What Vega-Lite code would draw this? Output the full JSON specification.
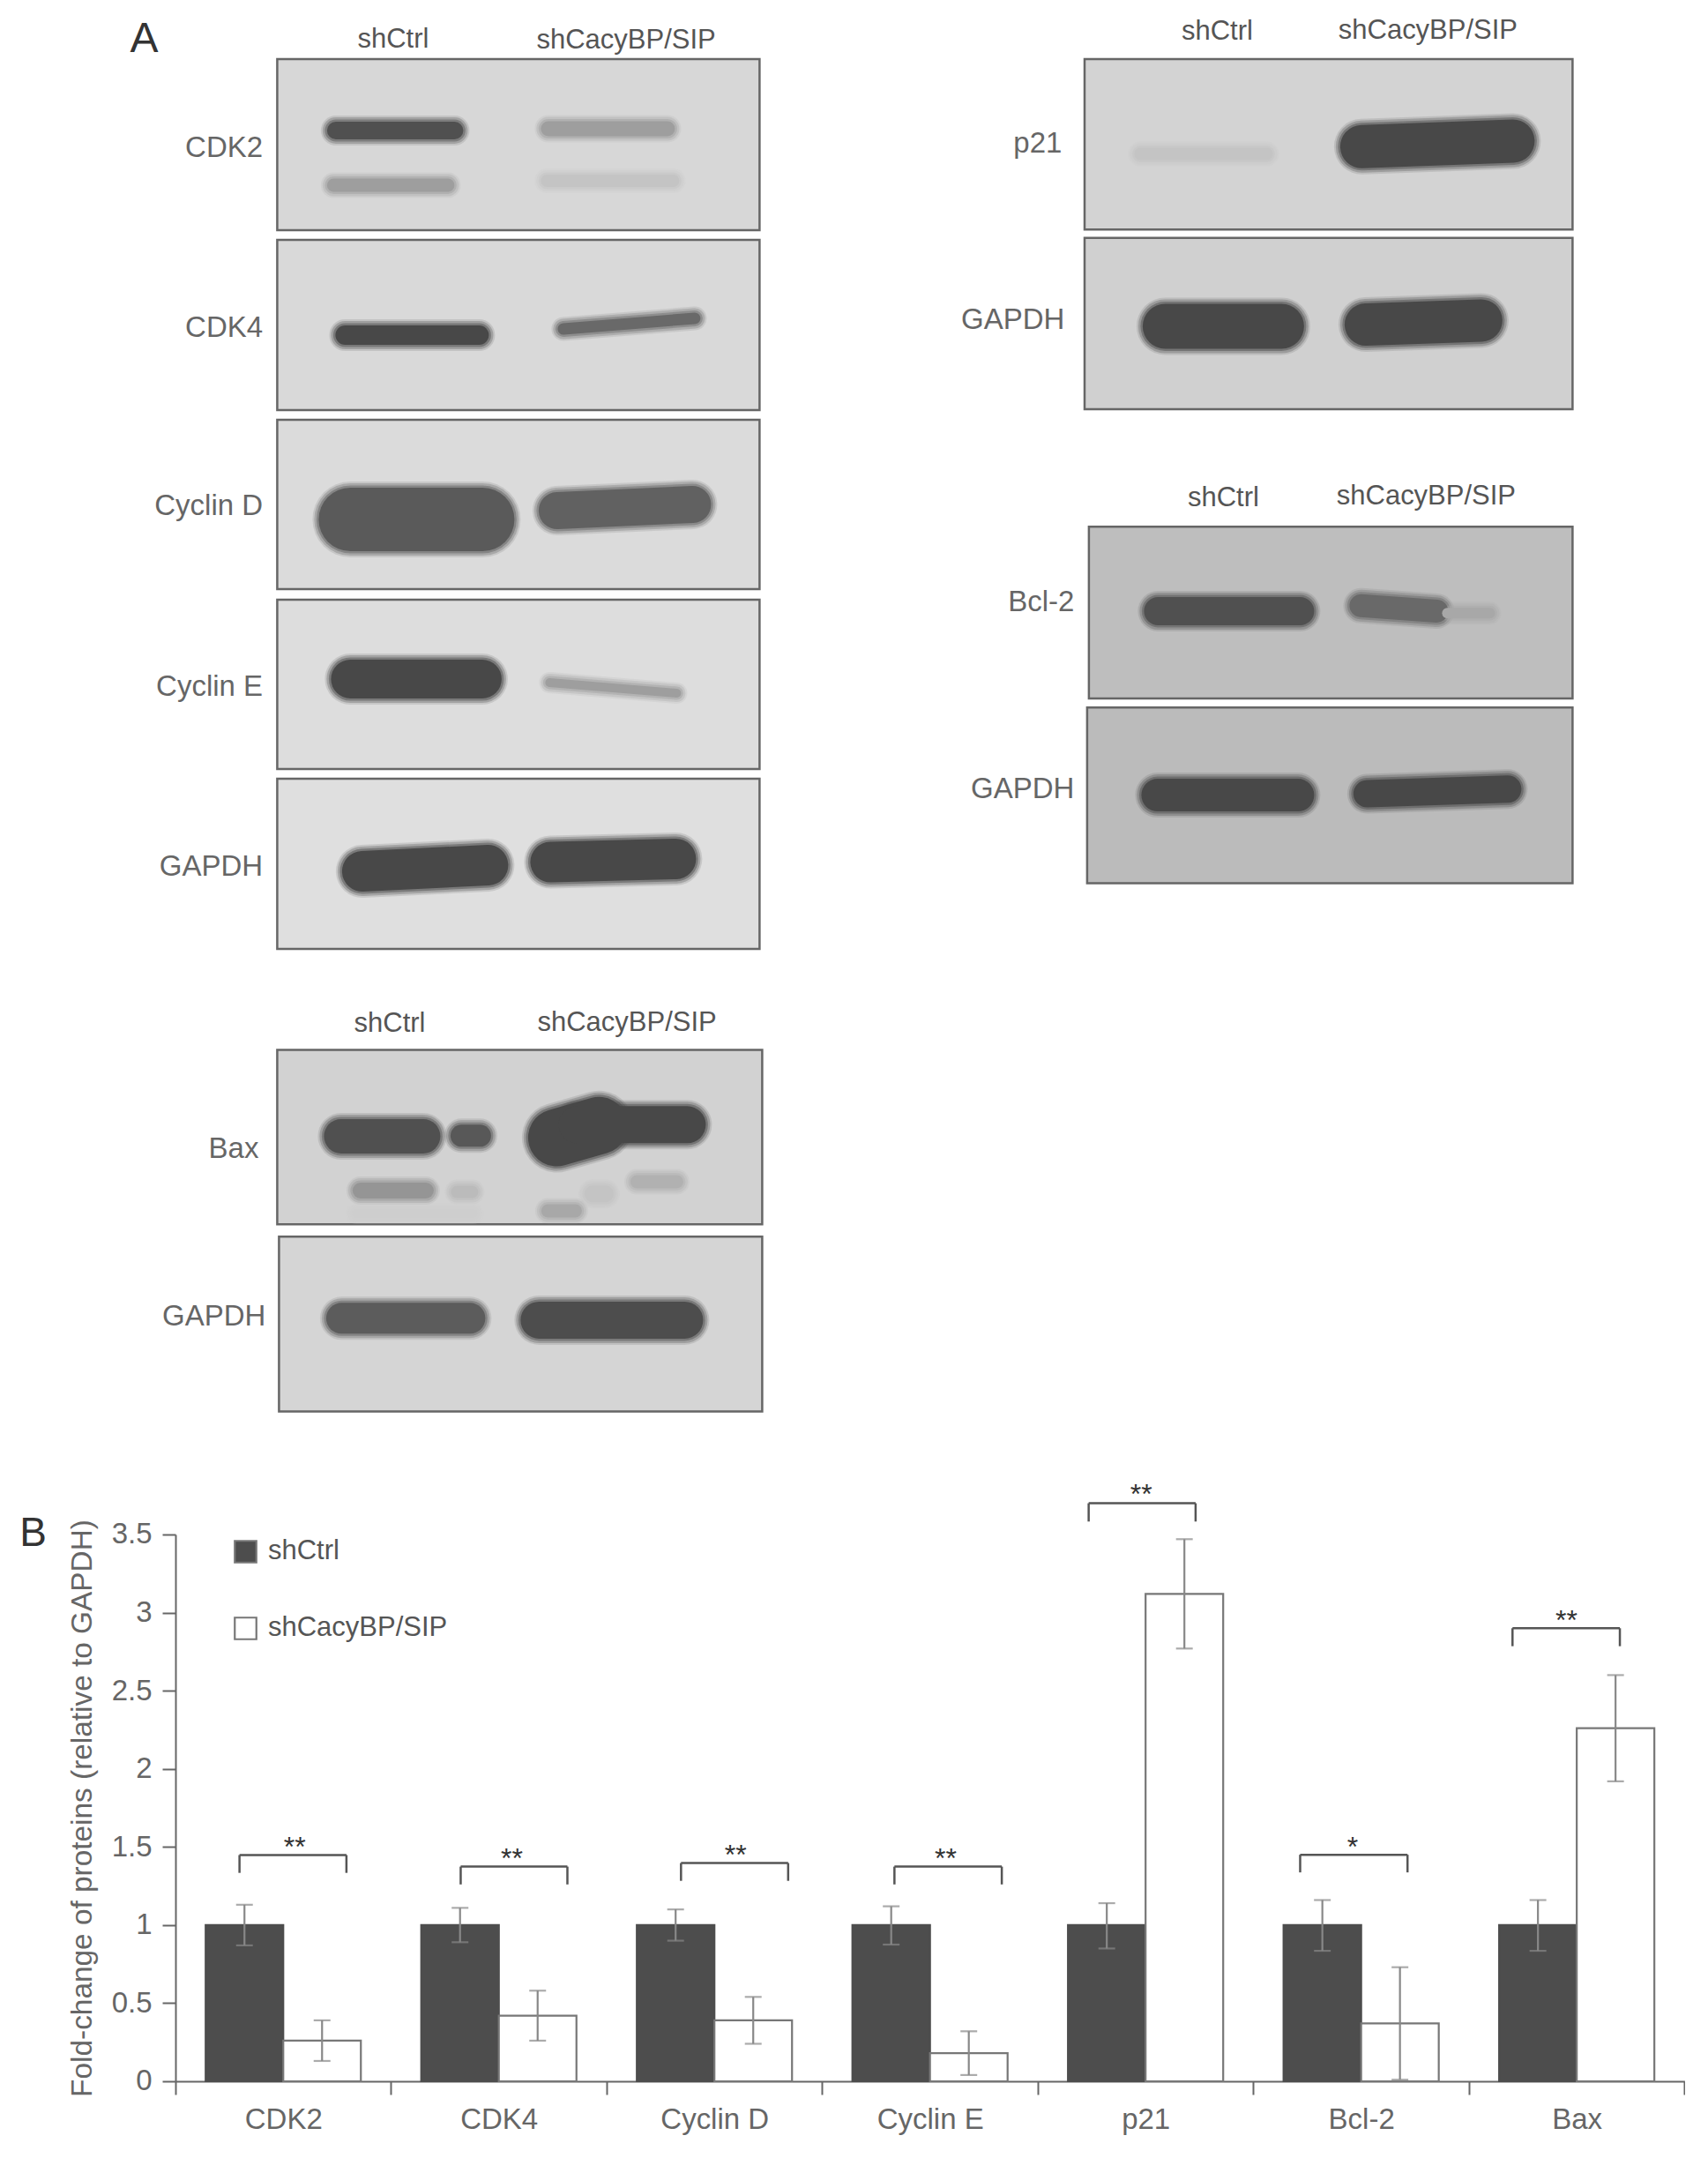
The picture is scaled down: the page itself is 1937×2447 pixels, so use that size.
{"$schema":"https://vega.github.io/schema/vega-lite/v6.json","background":"white","padding":{"left":22,"top":0,"right":0,"bottom":0},"spacing":0,"config":{"view":{"stroke":null},"font":"Liberation Sans"},
"datasets":{
"panels":[{"blot":"CDK2","x0":315,"x1":862,"y0":67,"y1":261,"darkness":0.2},{"blot":"CDK4","x0":315,"x1":862,"y0":272,"y1":465,"darkness":0.19},{"blot":"Cyclin D","x0":315,"x1":862,"y0":476,"y1":668,"darkness":0.18},{"blot":"Cyclin E","x0":315,"x1":862,"y0":680,"y1":872,"darkness":0.17},{"blot":"GAPDH","x0":315,"x1":862,"y0":883,"y1":1076,"darkness":0.16},{"blot":"Bax","x0":315,"x1":865,"y0":1190.6,"y1":1388.2,"darkness":0.23},{"blot":"GAPDH","x0":317,"x1":865,"y0":1402.3,"y1":1600.4,"darkness":0.21},{"blot":"p21","x0":1230.6,"x1":1784,"y0":67,"y1":260.3,"darkness":0.22},{"blot":"GAPDH","x0":1230.6,"x1":1784,"y0":269.7,"y1":464,"darkness":0.24},{"blot":"Bcl-2","x0":1235.5,"x1":1784,"y0":597.3,"y1":792,"darkness":0.33},{"blot":"GAPDH","x0":1233.5,"x1":1784,"y0":802.3,"y1":1001.4,"darkness":0.35}],
"bands":[{"x0":381.5,"x1":516,"y0":148,"y1":148,"t":18,"d":0.95},{"x0":379,"x1":508.5,"y0":210,"y1":210,"t":13,"d":0.5},{"x0":622.5,"x1":757.5,"y0":146,"y1":146,"t":15,"d":0.5},{"x0":621,"x1":764,"y0":205,"y1":205,"t":12,"d":0.3},{"x0":392,"x1":544,"y0":380,"y1":380,"t":20,"d":1},{"x0":639.5,"x1":788.5,"y0":373,"y1":361,"t":11,"d":0.8},{"x0":398,"x1":548,"y0":589,"y1":589,"t":70,"d":0.89},{"x0":632.5,"x1":786,"y0":579,"y1":572,"t":40,"d":0.85},{"x0":398,"x1":547.5,"y0":770,"y1":770,"t":42,"d":1},{"x0":624,"x1":768,"y0":774,"y1":786,"t":8,"d":0.5},{"x0":411.5,"x1":554,"y0":988,"y1":981,"t":44,"d":1},{"x0":625,"x1":767,"y0":977.5,"y1":974,"t":44,"d":1},{"x0":387.5,"x1":480.5,"y0":1288.4,"y1":1288.4,"t":37,"d":0.95},{"x0":524,"x1":545,"y0":1287.8,"y1":1287.8,"t":23,"d":0.9},{"x0":409.5,"x1":483.5,"y0":1350,"y1":1350,"t":16,"d":0.55},{"x0":519,"x1":536,"y0":1351.6,"y1":1351.6,"t":12,"d":0.35},{"x0":405,"x1":537,"y0":1376,"y1":1376,"t":8,"d":0.25},{"x0":632,"x1":680,"y0":1290,"y1":1276.3,"t":63,"d":1},{"x0":655,"x1":780,"y0":1275.3,"y1":1275.3,"t":40,"d":1},{"x0":723,"x1":768,"y0":1340,"y1":1340,"t":13,"d":0.4},{"x0":622,"x1":653,"y0":1373,"y1":1373,"t":13,"d":0.45},{"x0":673,"x1":687,"y0":1353.7,"y1":1353.7,"t":17,"d":0.3},{"x0":388,"x1":533.5,"y0":1494.8,"y1":1494.8,"t":33,"d":0.88},{"x0":612,"x1":777,"y0":1496.9,"y1":1496.9,"t":40,"d":0.97},{"x0":1294,"x1":1437,"y0":174.6,"y1":174.6,"t":12,"d":0.3},{"x0":1545,"x1":1716.5,"y0":166.2,"y1":160,"t":47,"d":1},{"x0":1322,"x1":1454,"y0":370,"y1":370,"t":49,"d":1},{"x0":1549.5,"x1":1680.5,"y0":368,"y1":363.4,"t":46,"d":1},{"x0":1314,"x1":1475,"y0":693,"y1":693,"t":30,"d":0.95},{"x0":1544,"x1":1630,"y0":686.8,"y1":693,"t":24,"d":0.8},{"x0":1642,"x1":1690,"y0":695.2,"y1":695.2,"t":10,"d":0.45},{"x0":1313.5,"x1":1472.5,"y0":901.6,"y1":901.6,"t":35,"d":1},{"x0":1551,"x1":1710.5,"y0":900,"y1":894.8,"t":29,"d":1}],
"rowLabels":[{"label":"CDK2","x":298.7,"y":168},{"label":"CDK4","x":298.7,"y":372},{"label":"Cyclin D","x":298.7,"y":574},{"label":"Cyclin E","x":298.7,"y":779},{"label":"GAPDH","x":298.7,"y":983},{"label":"Bax","x":294,"y":1303.5},{"label":"GAPDH","x":302,"y":1493.3},{"label":"p21","x":1205,"y":163},{"label":"GAPDH","x":1208,"y":363.3},{"label":"Bcl-2","x":1219,"y":683.3},{"label":"GAPDH","x":1219,"y":894.8}],
"lanes":[{"label":"shCtrl","x":446.5,"y":44.6},{"label":"shCacyBP/SIP","x":710.7,"y":46},{"label":"shCtrl","x":442.6,"y":1161.4},{"label":"shCacyBP/SIP","x":711.7,"y":1160.3},{"label":"shCtrl","x":1381,"y":36},{"label":"shCacyBP/SIP","x":1620,"y":35},{"label":"shCtrl","x":1388,"y":565},{"label":"shCacyBP/SIP","x":1618,"y":563.4}],
"letterA":[{"label":"A","x":164,"y":44.6}],
"bars":[{"protein":"CDK2","group":"shCtrl","fold":1,"low":0.87,"high":1.13},{"protein":"CDK2","group":"shCacyBP/SIP","fold":0.26,"low":0.13,"high":0.39},{"protein":"CDK4","group":"shCtrl","fold":1,"low":0.89,"high":1.11},{"protein":"CDK4","group":"shCacyBP/SIP","fold":0.42,"low":0.26,"high":0.58},{"protein":"Cyclin D","group":"shCtrl","fold":1,"low":0.9,"high":1.1},{"protein":"Cyclin D","group":"shCacyBP/SIP","fold":0.39,"low":0.24,"high":0.54},{"protein":"Cyclin E","group":"shCtrl","fold":1,"low":0.875,"high":1.12},{"protein":"Cyclin E","group":"shCacyBP/SIP","fold":0.18,"low":0.04,"high":0.32},{"protein":"p21","group":"shCtrl","fold":1,"low":0.85,"high":1.14},{"protein":"p21","group":"shCacyBP/SIP","fold":3.12,"low":2.77,"high":3.47},{"protein":"Bcl-2","group":"shCtrl","fold":1,"low":0.835,"high":1.16},{"protein":"Bcl-2","group":"shCacyBP/SIP","fold":0.37,"low":0.01,"high":0.73},{"protein":"Bax","group":"shCtrl","fold":1,"low":0.835,"high":1.16},{"protein":"Bax","group":"shCacyBP/SIP","fold":2.26,"low":1.92,"high":2.6}],
"brackets":[{"stars":"**","from":0.297,"to":0.793,"mid":0.553,"top":1.448,"foot":1.334,"label":1.525},{"stars":"**","from":1.323,"to":1.818,"mid":1.56,"top":1.374,"foot":1.26,"label":1.45},{"stars":"**","from":2.345,"to":2.842,"mid":2.598,"top":1.397,"foot":1.283,"label":1.475},{"stars":"**","from":3.335,"to":3.833,"mid":3.573,"top":1.374,"foot":1.26,"label":1.45},{"stars":"**","from":4.236,"to":4.732,"mid":4.48,"top":3.7,"foot":3.583,"label":3.78},{"stars":"*","from":5.217,"to":5.715,"mid":5.46,"top":1.45,"foot":1.337,"label":1.525},{"stars":"**","from":6.202,"to":6.7,"mid":6.452,"top":2.9,"foot":2.785,"label":2.975}],
"letterB":[{"label":"B","x":-0.66,"y":3.505}]
},
"vconcat":[
{"width":1711.4,"height":1679,
"encoding":{"x":{"field":"x0","type":"quantitative","scale":{"domain":[199.6,1911],"nice":false,"zero":false},"axis":null},"y":{"field":"y0","type":"quantitative","scale":{"domain":[0,1679],"reverse":true,"nice":false,"zero":false},"axis":null}},
"layer":[
{"data":{"name":"panels"},"mark":{"type":"rect","stroke":"#666666","strokeWidth":2.5},"encoding":{"x2":{"field":"x1"},"y2":{"field":"y1"},"fill":{"field":"darkness","type":"quantitative","scale":{"domain":[0,1],"range":["#ffffff","#484848"]},"legend":null}}},
{"data":{"name":"bands"},"mark":{"type":"rule","strokeCap":"round","opacity":0.15},"encoding":{"x2":{"field":"x1"},"y2":{"field":"y1"},"size":{"field":"t","type":"quantitative","scale":{"domain":[0,100],"range":[16,116]},"legend":null},"color":{"field":"d","type":"quantitative","scale":{"domain":[0,1],"range":["#ffffff","#484848"]},"legend":null}}},
{"data":{"name":"bands"},"mark":{"type":"rule","strokeCap":"round","opacity":0.28},"encoding":{"x2":{"field":"x1"},"y2":{"field":"y1"},"size":{"field":"t","type":"quantitative","scale":{"domain":[0,100],"range":[12,112]},"legend":null},"color":{"field":"d","type":"quantitative","scale":{"domain":[0,1],"range":["#ffffff","#484848"]},"legend":null}}},
{"data":{"name":"bands"},"mark":{"type":"rule","strokeCap":"round","opacity":0.45},"encoding":{"x2":{"field":"x1"},"y2":{"field":"y1"},"size":{"field":"t","type":"quantitative","scale":{"domain":[0,100],"range":[7,107]},"legend":null},"color":{"field":"d","type":"quantitative","scale":{"domain":[0,1],"range":["#ffffff","#484848"]},"legend":null}}},
{"data":{"name":"bands"},"mark":{"type":"rule","strokeCap":"round"},"encoding":{"x2":{"field":"x1"},"y2":{"field":"y1"},"size":{"field":"t","type":"quantitative","scale":{"domain":[0,100],"range":[2,102]},"legend":null},"color":{"field":"d","type":"quantitative","scale":{"domain":[0,1],"range":["#ffffff","#484848"]},"legend":null}}},
{"data":{"name":"rowLabels"},"mark":{"type":"text","align":"right","baseline":"middle","fontSize":33,"color":"#666666"},"encoding":{"x":{"field":"x","type":"quantitative","scale":{"domain":[199.6,1911],"nice":false,"zero":false},"axis":null},"y":{"field":"y","type":"quantitative","scale":{"domain":[0,1679],"reverse":true,"nice":false,"zero":false},"axis":null},"text":{"field":"label"}}},
{"data":{"name":"lanes"},"mark":{"type":"text","align":"center","baseline":"middle","fontSize":31,"color":"#555555"},"encoding":{"x":{"field":"x","type":"quantitative","scale":{"domain":[199.6,1911],"nice":false,"zero":false},"axis":null},"y":{"field":"y","type":"quantitative","scale":{"domain":[0,1679],"reverse":true,"nice":false,"zero":false},"axis":null},"text":{"field":"label"}}},
{"data":{"name":"letterA"},"mark":{"type":"text","align":"center","baseline":"middle","fontSize":48,"color":"#333333"},"encoding":{"x":{"field":"x","type":"quantitative","scale":{"domain":[199.6,1911],"nice":false,"zero":false},"axis":null},"y":{"field":"y","type":"quantitative","scale":{"domain":[0,1679],"reverse":true,"nice":false,"zero":false},"axis":null},"text":{"field":"label"}}}
],
"resolve":{"scale":{"size":"independent"}}},
{"width":1711.4,"height":620,
"layer":[
{"data":{"name":"bars"},
"encoding":{"x":{"field":"protein","type":"nominal","sort":["CDK2","CDK4","Cyclin D","Cyclin E","p21","Bcl-2","Bax"],"scale":{"paddingInner":0,"paddingOuter":0},"axis":{"title":null,"labelAngle":0,"tickBand":"extent","labelFontSize":33,"labelColor":"#666666","tickColor":"#666666","domainColor":"#666666","tickSize":15,"tickWidth":2,"domainWidth":2,"labelPadding":13}},"xOffset":{"field":"group","type":"nominal","sort":["shCtrl","shCacyBP/SIP"],"scale":{"paddingInner":0,"paddingOuter":0.389}}},
"layer":[
{"mark":{"type":"bar","strokeWidth":2.2},"encoding":{"y":{"field":"fold","type":"quantitative","scale":{"domain":[0,3.5]},"axis":{"title":"Fold-change of proteins (relative to GAPDH)","titleFontSize":33.4,"titleFontWeight":"normal","titleColor":"#666666","titlePadding":16,"values":[0,0.5,1,1.5,2,2.5,3,3.5],"format":"~g","grid":false,"labelFontSize":33,"labelColor":"#666666","tickColor":"#666666","domainColor":"#666666","tickSize":15,"tickWidth":2,"domainWidth":2,"labelPadding":12}},"fill":{"field":"group","type":"nominal","scale":{"domain":["shCtrl","shCacyBP/SIP"],"range":["#4d4d4d","#ffffff"]},"legend":{"title":null,"orient":"none","legendX":64,"legendY":4,"symbolType":"square","symbolSize":600,"symbolStrokeWidth":2.2,"symbolStrokeColor":"#777777","labelFontSize":31,"labelColor":"#555555","labelLimit":400,"rowPadding":52,"labelOffset":10}},"stroke":{"field":"group","type":"nominal","scale":{"domain":["shCtrl","shCacyBP/SIP"],"range":["#4d4d4d","#777777"]},"legend":null}}},
{"mark":{"type":"rule","color":"#888888","strokeWidth":2.2},"encoding":{"y":{"field":"low","type":"quantitative"},"y2":{"field":"high"}}},
{"mark":{"type":"tick","color":"#888888","size":19,"thickness":2.2},"encoding":{"y":{"field":"low","type":"quantitative"}}},
{"mark":{"type":"tick","color":"#888888","size":19,"thickness":2.2},"encoding":{"y":{"field":"high","type":"quantitative"}}}
]},
{"layer":[
{"data":{"name":"brackets"},"mark":{"type":"rule","color":"#555555","strokeWidth":2.5},"encoding":{"x":{"field":"from","type":"quantitative","scale":{"domain":[0,7]},"axis":null},"x2":{"field":"to"},"y":{"field":"top","type":"quantitative"}}},
{"data":{"name":"brackets"},"mark":{"type":"rule","color":"#555555","strokeWidth":2.5},"encoding":{"x":{"field":"from","type":"quantitative","scale":{"domain":[0,7]},"axis":null},"y":{"field":"foot","type":"quantitative"},"y2":{"field":"top"}}},
{"data":{"name":"brackets"},"mark":{"type":"rule","color":"#555555","strokeWidth":2.5},"encoding":{"x":{"field":"to","type":"quantitative","scale":{"domain":[0,7]},"axis":null},"y":{"field":"foot","type":"quantitative"},"y2":{"field":"top"}}},
{"data":{"name":"brackets"},"mark":{"type":"text","align":"center","baseline":"middle","fontSize":32,"color":"#333333","dy":5},"encoding":{"x":{"field":"mid","type":"quantitative","scale":{"domain":[0,7]},"axis":null},"y":{"field":"label","type":"quantitative"},"text":{"field":"stars"}}},
{"data":{"name":"letterB"},"mark":{"type":"text","align":"center","baseline":"middle","fontSize":46,"color":"#333333"},"encoding":{"x":{"field":"x","type":"quantitative","scale":{"domain":[0,7]},"axis":null},"y":{"field":"y","type":"quantitative"},"text":{"field":"label"}}}
]}
],
"resolve":{"scale":{"x":"independent"}}}
]}
